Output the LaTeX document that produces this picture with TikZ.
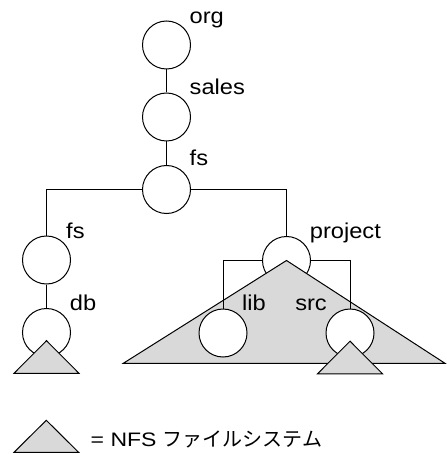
\documentclass[tikz,border=0pt]{standalone}
\usepackage{fontspec}
\setmainfont{Liberation Sans}
\newfontfamily\tagfont[FakeStretch=1.1]{Liberation Sans}
\newfontfamily\legfont[FakeStretch=1.18]{Liberation Sans}
\newfontfamily\jpfont{Noto Sans CJK JP}
\usetikzlibrary{positioning,calc}
\definecolor{GrisNFS}{HTML}{D9D9D9}

\begin{document}
\begin{tikzpicture}[x=1pt,y=-1pt,
        dir/.style={circle,draw,fill=white,minimum size=48pt,inner sep=0pt,line width=1pt},
        tag/.style={font=\tagfont\fontsize{21.5}{26}\selectfont,inner sep=0pt,anchor=base west},
        nfs/.style={draw,fill=GrisNFS,line width=1pt,line join=miter},
        link/.style={draw,line width=1pt}]
        \useasboundingbox (0,0) rectangle (446,454);
        % upper chain
        \node[dir] (org) at (166.5,45) {};
        \node[dir] (sales) at (166.5,117) {};
        \node[dir] (fs) at (166.5,189.5) {};
        \node[dir] (fsb) at (46.5,260) {};
        \node[dir] (db) at (46.5,332.5) {};
        \node[dir] (project) at (286.5,260.5) {};
        \draw[link] (org) -- (sales);\draw[link] (sales) -- (fs);
        \draw[link] (fs.west) -| (fsb.north);\draw[link] (fs.east) -| (project.north);
        \draw[link] (fsb) -- (db);
        % big NFS file system
        \draw[nfs] (project.center) -- (123.3,363.3) -- (445,363.3) -- cycle;
        \node[dir] (lib) at (223,333) {};
        \node[dir] (src) at (350,333) {};
        \draw[link] (project.west) -| (lib.north);\draw[link] (project.east) -| (src.north);
        % small NFS file systems
        \draw[nfs] ($(db)+(0,8.2)$) -- ++(-32.5,32.6) -- ++(65,0) -- cycle;
        \draw[nfs] ($(src)+(0,8.2)$) -- ++(-32.5,32.6) -- ++(65,0) -- cycle;
        % labels
        \node[tag] (torg) at ($(org.north -| org.east)+(-1.5,3)$) {org};
        \node[tag] (tsales) at ($(sales.north -| sales.east)+(-1.5,2)$) {sales};
        \node[tag] (tfs) at ($(fs.north -| fs.east)+(-1.5,1)$) {fs};
        \node[tag] (tfsb) at ($(fsb.north -| fsb.east)+(-5,2.6)$) {fs};
        \node[tag] (tdb) at ($(db.north -| db.east)+(-1.3,2.7)$) {db};
        \node[tag] (tproject) at ($(project.north -| project.east)+(-1.3,2.3)$) {project};
        \node[tag] (tlib) at ($(lib.north -| lib.east)+(-5.6,2.4)$) {lib};
        \node[tag,anchor=base east] (tsrc) at ($(src.north -| src.west)+(1.5,2.4)$) {src};
        % legend
        \draw[nfs] (46.3,420.3) -- ++(-32.3,32) -- ++(64.6,0) -- cycle;
        \node[tag,font=\legfont\fontsize{19.5}{24}\selectfont] (leyenda) at (90.5,446) {= NFS {\jpfont\fontsize{20}{24}\selectfont ファイルシステム}};
      \end{tikzpicture}
\end{document}
